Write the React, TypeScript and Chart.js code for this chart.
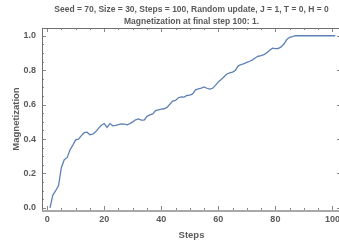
import React, { useEffect, useRef } from "react";
import { Chart, registerables } from "chart.js";

Chart.register(...registerables);

const titleLines = [
  "Seed = 70, Size = 30, Steps = 100, Random update, J = 1, T = 0, H = 0",
  "Magnetization at final step 100: 1.",
];
const xTitle = "Steps";
const yTitle = "Magnetization";

const steps = Array.from({ length: 101 }, (_, i) => i + 1);
const magnetization = [
  0.0, 0.075, 0.1, 0.13, 0.235, 0.28, 0.292, 0.337, 0.365, 0.395,
  0.4, 0.42, 0.437, 0.44, 0.425, 0.428, 0.442, 0.462, 0.48, 0.49,
  0.468, 0.49, 0.477, 0.48, 0.484, 0.488, 0.487, 0.483, 0.49, 0.5,
  0.512, 0.517, 0.51, 0.51, 0.532, 0.54, 0.546, 0.565, 0.57, 0.574,
  0.576, 0.584, 0.602, 0.621, 0.624, 0.64, 0.645, 0.644, 0.653, 0.655,
  0.662, 0.686, 0.691, 0.696, 0.703, 0.695, 0.69, 0.695, 0.712, 0.732,
  0.746, 0.762, 0.778, 0.784, 0.789, 0.8, 0.825, 0.833, 0.838, 0.845,
  0.852, 0.86, 0.872, 0.881, 0.884, 0.89, 0.902, 0.916, 0.928, 0.925,
  0.926, 0.935, 0.952, 0.978, 0.991, 0.995, 1.0, 1.0, 1.0, 1.0,
  1.0, 1.0, 1.0, 1.0, 1.0, 1.0, 1.0, 1.0, 1.0, 1.0,
  1.0,
];

const xTicks = [0, 20, 40, 60, 80, 100];
const xMinorTicks = [5, 10, 15, 25, 30, 35, 45, 50, 55, 65, 70, 75, 85, 90, 95];
const yTicks = [0, 0.2, 0.4, 0.6, 0.8, 1.0];
const yMinorTicks = [0.05, 0.1, 0.15, 0.25, 0.3, 0.35, 0.45, 0.5, 0.55, 0.65, 0.7, 0.75, 0.85, 0.9, 0.95];

const textColor = "#5a5a5a";
const lineColor = "#5E81B5";
const fontFamily = "Liberation Sans, Arial, sans-serif";

const framePlugin = {
  id: "frame",
  beforeDatasetsDraw(chart: any) {
    const { ctx, chartArea, scales } = chart;
    const { left, right, top, bottom } = chartArea;
    const xs = scales.x;
    const ys = scales.y;
    ctx.save();
    ctx.lineWidth = 1;
    ctx.strokeStyle = "#8a8a8a";
    const seg = (x1: number, y1: number, x2: number, y2: number) => {
      ctx.beginPath();
      ctx.moveTo(x1, y1);
      ctx.lineTo(x2, y2);
      ctx.stroke();
    };
    xTicks.forEach((v) => {
      const p = Math.round(xs.getPixelForValue(v)) + 0.5;
      seg(p, bottom, p, bottom - 4);
      seg(p, top, p, top + 4);
    });
    xMinorTicks.forEach((v) => {
      const p = Math.round(xs.getPixelForValue(v)) + 0.5;
      seg(p, bottom, p, bottom - 2);
      seg(p, top, p, top + 2);
    });
    yTicks.forEach((v) => {
      const p = Math.round(ys.getPixelForValue(v)) + 0.5;
      seg(left, p, left + 4, p);
      seg(right, p, right - 4, p);
    });
    yMinorTicks.forEach((v) => {
      const p = Math.round(ys.getPixelForValue(v)) + 0.5;
      seg(left, p, left + 2, p);
      seg(right, p, right - 2, p);
    });
    ctx.strokeStyle = "#6f6f6f";
    seg(left + 0.5, top, left + 0.5, bottom);
    seg(left, top + 0.5, right, top + 0.5);
    seg(right - 0.5, top, right - 0.5, bottom);
    ctx.strokeStyle = "#a8a8a8";
    ctx.lineWidth = 2;
    seg(left, bottom + 1, right, bottom + 1);
    ctx.restore();
  },
};

export default function App() {
  const ref = useRef<HTMLCanvasElement | null>(null);
  useEffect(() => {
    if (!ref.current) return;
    const chart = new Chart(ref.current, {
      type: "line",
      data: {
        labels: steps,
        datasets: [
          {
            data: steps.map((s, i) => ({ x: s, y: magnetization[i] })),
            borderColor: lineColor,
            borderWidth: 1.3,
            pointRadius: 0,
            tension: 0,
            fill: false,
          },
        ],
      },
      options: {
        animation: false,
        responsive: false,
        devicePixelRatio: 1,
        layout: { padding: { left: 0, right: 4, top: 0, bottom: 0 } },
        plugins: {
          legend: { display: false },
          tooltip: { enabled: false },
          title: {
            display: true,
            fullSize: false,
            text: titleLines,
            color: textColor,
            font: { family: fontFamily, size: 8.5, weight: "bold", lineHeight: 1.4 },
            padding: { top: 4, bottom: 0.2 },
          },
        },
        scales: {
          x: {
            type: "linear",
            min: -1.8,
            max: 103,
            afterBuildTicks: (scale: any) => {
              scale.ticks = xTicks.map((v) => ({ value: v }));
            },
            afterFit: (scale: any) => {
              scale.height = 34;
            },
            grid: { display: false, drawTicks: false },
            border: { display: false },
            ticks: {
              autoSkip: false,
              maxRotation: 0,
              padding: 4,
              color: textColor,
              font: { family: fontFamily, size: 9, weight: "bold" },
              callback: (v: any) => String(v),
            },
            title: {
              display: true,
              text: xTitle,
              color: textColor,
              font: { family: fontFamily, size: 9.5, weight: "bold", lineHeight: 1.2 },
              padding: { top: 0, bottom: 3 },
            },
          },
          y: {
            type: "linear",
            min: -0.012,
            max: 1.045,
            afterBuildTicks: (scale: any) => {
              scale.ticks = yTicks.map((v) => ({ value: v }));
            },
            afterFit: (scale: any) => {
              scale.width = 42;
            },
            grid: { display: false, drawTicks: false },
            border: { display: false },
            ticks: {
              autoSkip: false,
              padding: 6,
              color: textColor,
              font: { family: fontFamily, size: 9, weight: "bold" },
              callback: (v: any) => Number(v).toFixed(1),
            },
            title: {
              display: true,
              text: yTitle,
              color: textColor,
              font: { family: fontFamily, size: 9.5, weight: "bold", lineHeight: 1.2 },
              padding: { top: 11, bottom: 0 },
            },
          },
        },
      },
      plugins: [framePlugin],
    } as any);
    return () => chart.destroy();
  }, []);
  return (
    <div style={{ position: "fixed", left: 0, top: 0, width: 339, height: 244, overflow: "hidden", background: "#fff" }}>
      <canvas ref={ref} width={345} height={244} style={{ display: "block" }} />
    </div>
  );
}
